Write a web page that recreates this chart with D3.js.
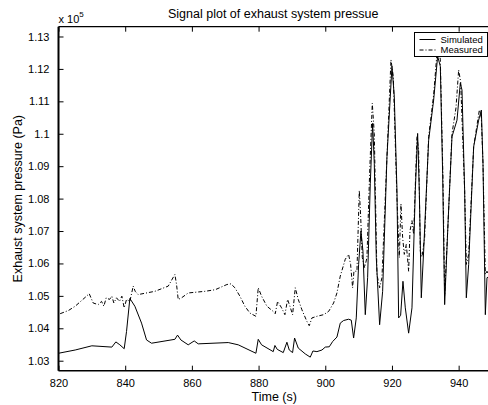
<!DOCTYPE html>
<html>
<head>
<meta charset="utf-8">
<script src="https://d3js.org/d3.v7.min.js"></script>
</head>
<body style="margin:0; padding:0; background:#fff;">
<script>
// values (pressure in units of 1e5 Pa)
var simT = [820, 825, 830, 836, 837.2, 838.4, 839.7, 840.4, 841.4, 842.9, 844.9, 846.4, 847.9, 854.9, 855.7, 856.7, 858.9, 860.7, 861.9, 870.9, 873.9,
  879.2, 879.9, 880.9, 884.4, 884.9, 885.6, 887.4, 888.5, 889.2, 890.2, 890.8, 891.9, 894, 895.5, 896.3, 897.5, 899, 900, 901.2, 902.2, 903.5,
  904.5, 905.5, 907, 907.8, 908.5, 909.3, 910, 910.7, 911.3, 912, 912.7, 913.5, 914.2, 914.7, 915.3, 916.3, 917.2, 918.5, 920, 920.7, 921.5,
  922, 922.6, 923.3, 924, 925, 926, 927, 927.7, 928.2, 928.8, 929.5, 931, 932.5, 933.7, 934.5, 935.2, 935.8, 936.8, 938, 939.5, 940.5, 941,
  941.8, 942.3, 943, 944.5, 946, 946.8, 947.3, 948, 948.5, 949.3];
var simP = [1.0323, 1.0333, 1.0346, 1.0342, 1.0358, 1.0349, 1.0337, 1.039, 1.0492, 1.0468, 1.0416, 1.0364, 1.0354, 1.0366, 1.0379, 1.0364, 1.0349, 1.0361, 1.0352, 1.0356, 1.0349,
  1.0323, 1.0366, 1.0349, 1.0328, 1.0347, 1.0335, 1.0325, 1.0357, 1.0333, 1.0325, 1.037, 1.0339, 1.0321, 1.0311, 1.033, 1.0328, 1.0333, 1.0342, 1.0343, 1.0359, 1.0373,
  1.0416, 1.0424, 1.0428, 1.0425, 1.037, 1.0432, 1.0597, 1.07, 1.0638, 1.0442, 1.0556, 1.0846, 1.1032, 1.0908, 1.0618, 1.0411, 1.0514, 1.0929, 1.1208, 1.1115, 1.0825,
  1.0432, 1.044, 1.0545, 1.0463, 1.0385, 1.0463, 1.0825, 1.1001, 1.0825, 1.0494, 1.0638, 1.098, 1.1104, 1.1239, 1.1208, 1.0877, 1.0473, 1.0721, 1.0991, 1.1042, 1.1156, 1.1135,
  1.0825, 1.0494, 1.0597, 1.096, 1.1042, 1.1073, 1.0908, 1.0442, 1.0556, 1.056];

var measT = [820.5, 823, 825, 828.4, 829.2, 830.4, 831.9, 832.9, 833.6, 834.3, 835.3, 836, 836.6, 837.4, 838.3, 839, 839.7, 840.4, 841.4, 842.4, 843, 843.9,
  848.9, 852.9, 854.9, 855.4, 855.9, 856.9, 858.9, 863.9, 867, 870.5, 871.7, 872.9, 874.4, 875.9, 877.4, 879.2, 879.9, 880.9, 882.5, 884.4, 885, 885.7,
  886.9, 887.9, 888.7, 889.4, 890.2, 891, 891.9, 893, 894.5, 895.2, 896, 897.5, 899.5, 901, 902.5, 903.5, 904.5, 906, 907, 907.6, 908.2, 908.6, 909.5,
  910.2, 910.6, 911.1, 911.8, 912.5, 913.3, 914.1, 914.7, 915.5, 916.3, 917, 918.5, 919.7, 920.4, 921.5, 922.2, 922.7, 923.2, 923.7, 924.3, 925, 925.4,
  926, 926.5, 927.5, 928, 928.5, 929, 929.8, 931, 932.5, 933.7, 934.5, 935.3, 935.8, 936.8, 938, 939.2, 940, 940.6, 941.8, 942.3, 943, 944.5, 946.2,
  946.8, 947.3, 948, 948.5, 949.3];
var measP = [1.0445, 1.0455, 1.0468, 1.0499, 1.0507, 1.0478, 1.0473, 1.0483, 1.0468, 1.0494, 1.0489, 1.0499, 1.0478, 1.0494, 1.0483, 1.0499, 1.0463, 1.0489, 1.0483, 1.053, 1.0514, 1.0504,
  1.0514, 1.053, 1.0566, 1.0535, 1.0489, 1.0494, 1.0509, 1.0514, 1.0519, 1.0535, 1.0537, 1.0525, 1.0499, 1.0468, 1.0447, 1.0437, 1.0525, 1.0499, 1.0468, 1.0452, 1.0445, 1.0483,
  1.0463, 1.0442, 1.0489, 1.0468, 1.0442, 1.0525, 1.0489, 1.0457, 1.0421, 1.0408, 1.0432, 1.0437, 1.0442, 1.0452, 1.0478, 1.0509, 1.0561, 1.0613, 1.0628, 1.0597, 1.0525, 1.0576, 1.0576,
  1.0825, 1.075, 1.0618, 1.0587, 1.0618, 1.0877, 1.1094, 1.1001, 1.0566, 1.0525, 1.0556, 1.0929, 1.1228, 1.1177, 1.08, 1.0618, 1.0784, 1.068, 1.0628, 1.0659, 1.0576, 1.07,
  1.0732, 1.069, 1.0991, 1.095, 1.0638, 1.062, 1.068, 1.0991, 1.112, 1.1275, 1.123, 1.0862, 1.05, 1.072, 1.1, 1.108, 1.1197, 1.116, 1.0825, 1.0597, 1.0628, 1.096, 1.1073,
  1.105, 1.0908, 1.0566, 1.0576, 1.056];

var xTicks = [820, 840, 860, 880, 900, 920, 940];
var yTicks = [1.03, 1.04, 1.05, 1.06, 1.07, 1.08, 1.09, 1.1, 1.11, 1.12, 1.13];
var seriesNames = ["Simulated", "Measured"];

var W = 488, H = 405;
// note: can't call it "top", window.top is read-only
var axL = 58.5, axR = 492, axT = 26.7, axB = 370.7;
var font = "'Liberation Sans', Arial, Helvetica, sans-serif";

var svg = d3.select("body").append("svg")
  .attr("width", W).attr("height", H)
  .style("font-family", font);

var x = d3.scaleLinear().domain([820, 950]).range([axL, axR]);
var y = d3.scaleLinear().domain([1.02692, 1.13302]).range([axB, axT]);

// data lines, clipped to the axes box
svg.append("clipPath").attr("id", "clip")
  .append("rect").attr("x", axL).attr("y", axT).attr("width", axR - axL).attr("height", axB - axT);

var line = d3.line().x(function (d) { return x(d[0]); }).y(function (d) { return y(d[1]); });

var g = svg.append("g").attr("clip-path", "url(#clip)");
g.append("path")
  .datum(simT.map(function (t, i) { return [t, simP[i]]; }))
  .attr("d", line).attr("fill", "none").attr("stroke", "#000").attr("stroke-width", 1);
g.append("path")
  .datum(measT.map(function (t, i) { return [t, measP[i]]; }))
  .attr("d", line).attr("fill", "none").attr("stroke", "#000").attr("stroke-width", 1)
  .attr("stroke-dasharray", "4,2,1,2");

// axes: ticks drawn inward, like matlab
var xAxis = d3.axisBottom(x).tickValues(xTicks).tickSizeInner(-5).tickSizeOuter(0).tickPadding(9);
var yAxis = d3.axisLeft(y).tickValues(yTicks).tickSizeInner(-5).tickSizeOuter(0).tickPadding(9)
  .tickFormat(function (d) { return String(+d.toFixed(2)); });

var gx = svg.append("g").attr("transform", "translate(0," + axB + ")").call(xAxis);
var gy = svg.append("g").attr("transform", "translate(" + axL + ",0)").call(yAxis);
var gxt = svg.append("g").attr("transform", "translate(0," + axT + ")")
  .call(d3.axisTop(x).tickValues(xTicks).tickSizeInner(-5).tickSizeOuter(0).tickFormat(""));

[gx, gy, gxt].forEach(function (a) {
  a.select(".domain").remove();
  a.selectAll("line").attr("stroke", "#000").attr("stroke-width", 1);
  a.selectAll("text").attr("fill", "#000").style("font-size", "11px").style("font-family", font);
});

// axes box
svg.append("line").attr("x1", axL).attr("x2", axR).attr("y1", axT).attr("y2", axT)
  .attr("stroke", "#000").attr("stroke-width", 1.2);
svg.append("line").attr("x1", axL).attr("x2", axR).attr("y1", axB).attr("y2", axB)
  .attr("stroke", "#000").attr("stroke-width", 1.5);
svg.append("line").attr("x1", axL).attr("x2", axL).attr("y1", axT).attr("y2", axB)
  .attr("stroke", "#000").attr("stroke-width", 2);

// exponent label
var ex = svg.append("text").attr("x", axL).attr("y", 23).style("font-size", "11px");
ex.append("tspan").text("x 10");
ex.append("tspan").attr("dy", -6).style("font-size", "8px").text("5");

// title and axis labels
svg.append("text").attr("x", (axL + axR) / 2 - 2).attr("y", 18).attr("text-anchor", "middle")
  .style("font-size", "12.5px").text("Signal plot of exhaust system pressue");
svg.append("text").attr("x", (axL + 490) / 2).attr("y", 401).attr("text-anchor", "middle")
  .style("font-size", "12.5px").text("Time (s)");
svg.append("text").attr("transform", "translate(22," + (axT + axB) / 2 + ") rotate(-90)")
  .attr("text-anchor", "middle").style("font-size", "12.5px").text("Exhaust system pressure (Pa)");

// legend
var lg = svg.append("g").attr("transform", "translate(414.5,32.5)");
lg.append("rect").attr("width", 73).attr("height", 24)
  .attr("fill", "#fff").attr("stroke", "#000").attr("stroke-width", 1);
seriesNames.forEach(function (name, i) {
  var yy = 7 + i * 10.5;
  lg.append("line").attr("x1", 5).attr("x2", 21).attr("y1", yy).attr("y2", yy)
    .attr("stroke", "#000").attr("stroke-width", 1)
    .attr("stroke-dasharray", i === 1 ? "4,2,1,2" : null);
  lg.append("text").attr("x", 26).attr("y", yy + 3.3).style("font-size", "9.5px").text(name);
});
</script>
</body>
</html>
